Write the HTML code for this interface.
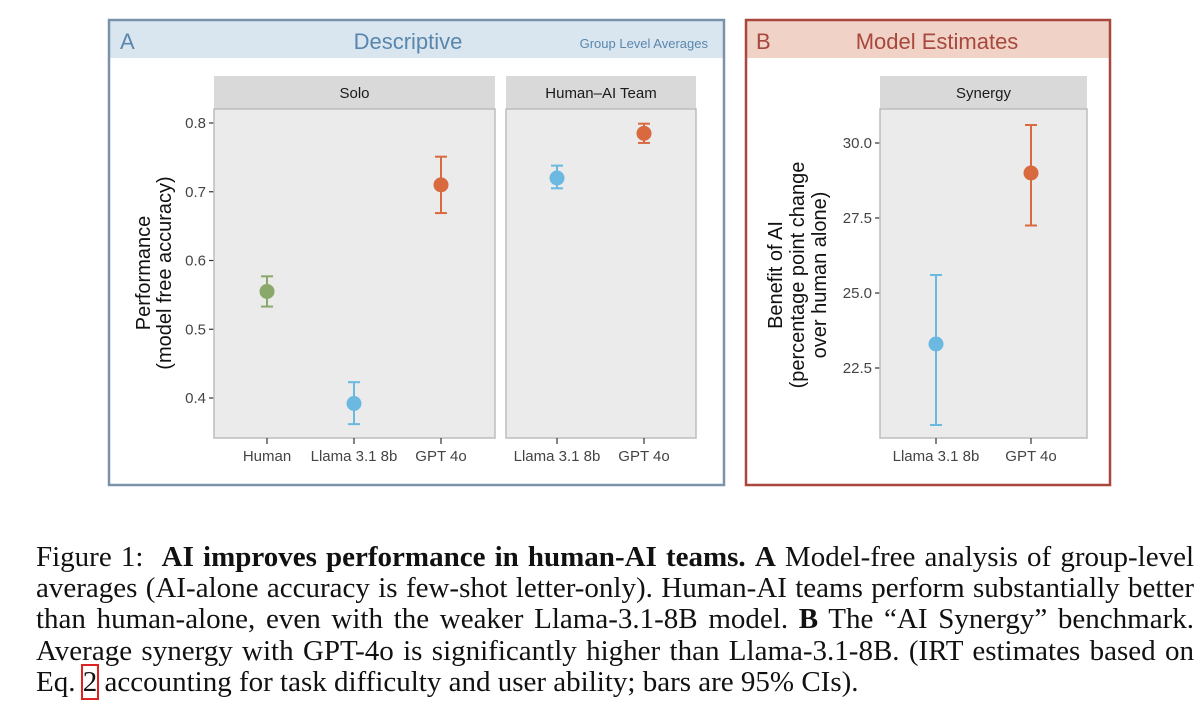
<!DOCTYPE html>
<html><head><meta charset="utf-8"><style>
body{margin:0;width:1200px;height:710px;background:#fff;overflow:hidden;position:relative;font-family:"Liberation Sans",sans-serif}
#cap{position:absolute;left:36px;top:542px;width:1158px;font-family:"Liberation Serif",serif;font-size:29px;line-height:31.2px;color:#111}
#cap .l{text-align:justify;text-align-last:justify;white-space:nowrap}
#cap .l.last{text-align-last:left}
.ref{outline:2px solid #d22;outline-offset:0px}
</style></head><body>
<svg id="fig" width="1200" height="520" style="position:absolute;left:0;top:0" font-family="Liberation Sans, sans-serif"></svg>
<div id="cap">
<div class="l">Figure 1: &nbsp;<b>AI improves performance in human-AI teams.</b> <b>A</b> Model-free analysis of group-level</div>
<div class="l">averages (AI-alone accuracy is few-shot letter-only). Human-AI teams perform substantially better</div>
<div class="l">than human-alone, even with the weaker Llama-3.1-8B model. <b>B</b> The “AI Synergy” benchmark.</div>
<div class="l">Average synergy with GPT-4o is significantly higher than Llama-3.1-8B. (IRT estimates based on</div>
<div class="l last">Eq. <span class="ref">2</span> accounting for task difficulty and user ability; bars are 95% CIs).</div>
</div>
<script>
const soloCats=["Human","Llama 3.1 8b","GPT 4o"];
const soloVals=[0.555,0.392,0.710];
const soloLo=[0.533,0.362,0.669];
const soloHi=[0.577,0.423,0.751];
const teamCats=["Llama 3.1 8b","GPT 4o"];
const teamVals=[0.720,0.785];
const teamLo=[0.705,0.771];
const teamHi=[0.738,0.799];
const perfTicks=[0.4,0.5,0.6,0.7,0.8];
const synCats=["Llama 3.1 8b","GPT 4o"];
const synVals=[23.3,29.0];
const synLo=[20.6,27.25];
const synHi=[25.6,30.6];
const synTicks=[22.5,25.0,27.5,30.0];
const catColors={"Human":"#8aa86a","Llama 3.1 8b":"#6bb8e0","GPT 4o":"#d9693f"};

const svg=document.getElementById('fig');
const NS='http://www.w3.org/2000/svg';
function mk(tag,attrs,parent,text){const e=document.createElementNS(NS,tag);for(const k in attrs)e.setAttribute(k,attrs[k]);if(text!==undefined)e.textContent=text;(parent||svg).appendChild(e);return e;}

let g=mk('g',{});
let r=mk('rect',{x:109,y:20,width:615,height:38,fill:'#d9e6f0'},g);
mk('rect',{x:109,y:20,width:615,height:465,fill:'none',stroke:'#7b92ab','stroke-width':2.5},g);
let t=mk('text',{x:120,y:49,'font-size':22,fill:'#5a86ad'},g,'A');
t=mk('text',{x:408,y:49,'font-size':22,fill:'#5a86ad','text-anchor':'middle'},g,'Descriptive');
t=mk('text',{x:708,y:48,'font-size':13,fill:'#5a86ad','text-anchor':'end'},g,'Group Level Averages');

let gb=mk('g',{});
r=mk('rect',{x:746,y:20,width:364,height:38,fill:'#f0d3c6'},gb);
mk('rect',{x:746,y:20,width:364,height:465,fill:'none',stroke:'#a8473e','stroke-width':2.5},gb);
t=mk('text',{x:756,y:49,'font-size':22,fill:'#a8473e'},gb,'B');
t=mk('text',{x:937,y:49,'font-size':22,fill:'#a8473e','text-anchor':'middle'},gb,'Model Estimates');

function facet(parent,name,x0,x1,title,cats,vals,lo,hi,yScale,xs){
  const f=mk('g',{},parent);
  const s=mk('rect',{x:x0,y:76,width:x1-x0,height:33,fill:'#d9d9d9'},f);
  mk('text',{x:(x0+x1)/2,y:98,'font-size':15,fill:'#1a1a1a','text-anchor':'middle'},f,title);
  const p=mk('rect',{x:x0,y:109,width:x1-x0,height:329,fill:'#ebebeb',stroke:'#bdbdbd','stroke-width':1.5},f);
  cats.forEach((c,i)=>{
    const x=xs[i],col=catColors[c];
    mk('line',{x1:x,x2:x,y1:438,y2:444,stroke:'#333','stroke-width':1.2},f);
    const lb=mk('text',{x:x,y:461,'font-size':15,fill:'#444','text-anchor':'middle'},f,c);
    
    const eb=mk('g',{stroke:col,'stroke-width':2},f);
    
    mk('line',{x1:x,x2:x,y1:yScale(lo[i]),y2:yScale(hi[i])},eb);
    mk('line',{x1:x-6,x2:x+6,y1:yScale(lo[i]),y2:yScale(lo[i])},eb);
    mk('line',{x1:x-6,x2:x+6,y1:yScale(hi[i]),y2:yScale(hi[i])},eb);
    const pt=mk('circle',{cx:x,cy:yScale(vals[i]),r:7.5,fill:col},f);
    
  });
}
function yAxis(parent,name,xEdge,ticks,yScale,fmt){
  const a=mk('g',{},parent);
  ticks.forEach(v=>{const y=yScale(v);
    mk('line',{x1:xEdge-5,x2:xEdge,y1:y,y2:y,stroke:'#333','stroke-width':1.2},a);
    const tl=mk('text',{x:xEdge-8,y:y+5,'font-size':15,fill:'#444','text-anchor':'end'},a,fmt(v));
    });
}
const yA=v=>123+(0.8-v)*687.5;
yAxis(g,'y-axis-performance',214,perfTicks,yA,v=>v.toFixed(1));
facet(g,'facet-solo',214,495,'Solo',soloCats,soloVals,soloLo,soloHi,yA,[267,354,441]);
facet(g,'facet-team',506,696,'Human\u2013AI Team',teamCats,teamVals,teamLo,teamHi,yA,[557,644]);
let yt=mk('text',{transform:'translate(150,273) rotate(-90)','font-size':20,fill:'#111','text-anchor':'middle'},g);

mk('tspan',{x:0,dy:0},yt,'Performance');mk('tspan',{x:0,dy:21},yt,'(model free accuracy)');

const yB=v=>143+(30-v)*30;
yAxis(gb,'y-axis-benefit',880,synTicks,yB,v=>v.toFixed(1));
facet(gb,'facet-synergy',880,1087,'Synergy',synCats,synVals,synLo,synHi,yB,[936,1031]);
yt=mk('text',{transform:'translate(782,275) rotate(-90)','font-size':20,fill:'#111','text-anchor':'middle'},gb);

mk('tspan',{x:0,dy:0},yt,'Benefit of AI');mk('tspan',{x:0,dy:22},yt,'(percentage point change');mk('tspan',{x:0,dy:22},yt,'over human alone)');
</script>
</body></html>
